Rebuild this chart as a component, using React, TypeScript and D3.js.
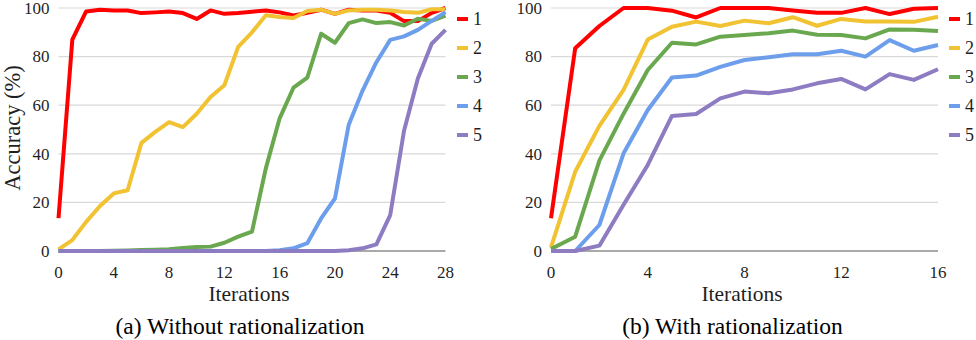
import React from "react";
import * as d3 from "d3";

const seriesNames = ["1", "2", "3", "4", "5"];
const seriesColors = ["#ff0000", "#f1c232", "#6aa84f", "#6d9eeb", "#8e7cc3"];
const yTicks = [0, 20, 40, 60, 80, 100];

const leftTicks = [0, 4, 8, 12, 16, 20, 24, 28];
const left1 = [13.5, 87, 98.6, 99.3, 99, 99, 97.9, 98.2, 98.6, 97.9, 95.5, 99, 97.6, 97.9, 98.5, 99, 98.2, 96.9, 98, 99.3, 97.6, 99.3, 99, 99, 98, 94.6, 94.6, 98, 100];
const left2 = [0.7, 4.5, 12, 18.5, 23.7, 25, 44.5, 49, 53, 51, 56.5, 63.4, 68.2, 84, 90, 97, 96.3, 95.9, 98.8, 99.3, 97.6, 99, 99.3, 99.3, 99, 98.4, 98, 99.5, 99.5];
const left3 = [0, 0, 0, 0, 0.1, 0.2, 0.4, 0.5, 0.7, 1.2, 1.6, 1.8, 3.4, 5.9, 8, 34, 54.6, 67.2, 71.3, 89.4, 85.7, 93.8, 95.3, 93.8, 94.2, 92.8, 95.6, 94.7, 96.9];
const left4 = [0, 0, 0, 0, 0, 0, 0, 0, 0, 0, 0, 0, 0, 0, 0, 0, 0.3, 1.1, 3.2, 13.4, 21.6, 52, 66, 77.7, 86.9, 88.3, 91, 94.7, 98.3];
const left5 = [0, 0, 0, 0, 0, 0, 0, 0, 0, 0, 0, 0, 0, 0, 0, 0, 0, 0, 0, 0, 0, 0.3, 1.1, 2.7, 14.8, 49.5, 71, 85.3, 91];

const rightTicks = [0, 4, 8, 12, 16];
const right1 = [13.5, 83.4, 92.6, 100, 100, 98.9, 96.1, 100, 100, 100, 99, 98, 98, 100, 97.5, 99.7, 100];
const right2 = [1.5, 32.6, 51.5, 66.3, 87, 92.3, 94.4, 92.6, 94.8, 93.7, 96.2, 92.7, 95.5, 94.4, 94.4, 94.3, 96.4];
const right3 = [0.8, 5.9, 37.2, 56.5, 74.5, 85.7, 85, 88.2, 88.9, 89.6, 90.7, 89, 88.9, 87.5, 91.2, 91, 90.5];
const right4 = [0, 0, 10.7, 40.2, 58, 71.4, 72.2, 75.8, 78.6, 79.7, 81, 81, 82.4, 80, 86.8, 82.4, 84.8];
const right5 = [0, 0, 2.2, 19, 35.4, 55.6, 56.4, 62.8, 65.6, 64.9, 66.5, 69, 70.8, 66.5, 72.8, 70.4, 74.8];

const FONT = "'Liberation Serif', 'Times New Roman', serif";
const TEXT = "#1f1f1f";

type PanelProps = {
  x0: number;
  x1: number;
  maxIter: number;
  ticks: number[];
  series: number[][];
  caption: string;
  yTitle: boolean;
  legendX: number;
  captionX: number;
  titleX: number;
};

function Panel({ x0, x1, maxIter, ticks, series, caption, yTitle, legendX, captionX, titleX }: PanelProps) {
  const x = d3.scaleLinear().domain([0, maxIter]).range([x0, x1]);
  const y = d3.scaleLinear().domain([0, 100]).range([251, 8]);
  const line = d3
    .line<number>()
    .x((_, i) => x(i))
    .y((v) => y(v));
  return (
    <g>
      {yTicks.map((t) => (
        <g key={t}>
          <line
            x1={x0}
            x2={x1}
            y1={y(t)}
            y2={y(t)}
            stroke={t === 0 ? "#8c8c8c" : "#d9d9d9"}
            strokeWidth={t === 0 ? 1.6 : 1.2}
          />
          <text
            x={x0 - 9}
            y={y(t)}
            dy="0.34em"
            textAnchor="end"
            fontFamily={FONT}
            fontSize={17}
            fill={TEXT}
          >
            {t}
          </text>
        </g>
      ))}
      {ticks.map((t) => (
        <text
          key={t}
          x={x(t)}
          y={277.5}
          textAnchor="middle"
          fontFamily={FONT}
          fontSize={17}
          fill={TEXT}
        >
          {t}
        </text>
      ))}
      {series.map((s, k) => (
        <path
          key={k}
          d={line(s) || ""}
          fill="none"
          stroke={seriesColors[k]}
          strokeWidth={4}
          strokeLinejoin="round"
        />
      ))}
      {seriesNames.map((n, k) => (
        <g key={n}>
          <line
            x1={legendX}
            x2={legendX + 11}
            y1={19 + k * 29}
            y2={19 + k * 29}
            stroke={seriesColors[k]}
            strokeWidth={4}
          />
          <text
            x={legendX + 16}
            y={19 + k * 29}
            dy="0.34em"
            fontFamily={FONT}
            fontSize={18}
            fill={TEXT}
          >
            {n}
          </text>
        </g>
      ))}
      <text
        x={titleX}
        y={300.5}
        textAnchor="middle"
        fontFamily={FONT}
        fontSize={21.5}
        fill={TEXT}
      >
        Iterations
      </text>
      <text
        x={captionX}
        y={334}
        textAnchor="middle"
        fontFamily={FONT}
        fontSize={23.5}
        fill="#000"
      >
        {caption}
      </text>
      {yTitle && (
        <text
          transform="translate(20,128) rotate(-90)"
          textAnchor="middle"
          fontFamily={FONT}
          fontSize={22.5}
          fill={TEXT}
        >
          Accuracy (%)
        </text>
      )}
    </g>
  );
}

export default function App() {
  return (
    <svg
      width={976}
      height={340}
      style={{ position: "absolute", left: 0, top: 0, background: "#fff" }}
    >
      <rect width={976} height={340} fill="#fff" />
      <Panel
        x0={58.5}
        x1={445.5}
        maxIter={28}
        ticks={leftTicks}
        series={[left1, left2, left3, left4, left5]}
        caption="(a) Without rationalization"
        yTitle={true}
        legendX={457}
        captionX={240}
        titleX={249}
      />
      <Panel
        x0={551}
        x1={938}
        maxIter={16}
        ticks={rightTicks}
        series={[right1, right2, right3, right4, right5]}
        caption="(b) With rationalization"
        yTitle={false}
        legendX={949}
        captionX={732.5}
        titleX={742}
      />
    </svg>
  );
}
